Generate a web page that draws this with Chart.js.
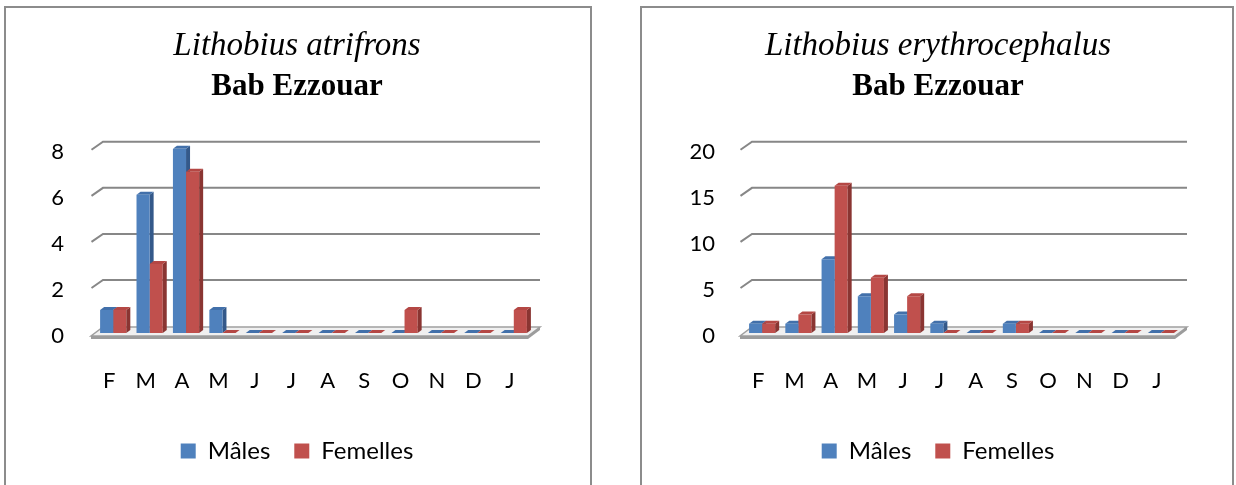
<!DOCTYPE html>
<html>
<head>
<meta charset="utf-8">
<script src="https://cdn.jsdelivr.net/npm/chart.js@4.4.1/dist/chart.umd.min.js"></script>
<style>
  html, body { margin: 0; padding: 0; background: #fff; overflow: hidden; width: 1236px; height: 485px; }
  .panel { position: absolute; box-sizing: border-box; border: 2px solid #8c8c8c; background: #fff; }
  canvas { position: absolute; top: 0; }
</style>
</head>
<body>
<div class="panel" style="left:4px; top:6px; width:588px; height:600px;"></div>
<div class="panel" style="left:640px; top:6px; width:594px; height:600px;"></div>
<canvas id="chartA" width="620" height="520" style="left:0px;"></canvas>
<canvas id="chartB" width="616" height="520" style="left:620px;"></canvas>
<script>
// Months of the sampling year (February to January)
const months = ['F', 'M', 'A', 'M', 'J', 'J', 'A', 'S', 'O', 'N', 'D', 'J'];

// Lithobius atrifrons, Bab Ezzouar
const atrifronsMales   = [1, 6, 8, 1, 0, 0, 0, 0, 0, 0, 0, 0];
const atrifronsFemales = [1, 3, 7, 0, 0, 0, 0, 0, 1, 0, 0, 1];
const atrifronsTicks   = { max: 8, step: 2 };

// Lithobius erythrocephalus, Bab Ezzouar
const erythroMales   = [1, 1, 8, 4, 2, 1, 0, 1, 0, 0, 0, 0];
const erythroFemales = [1, 2, 16, 6, 4, 0, 0, 1, 0, 0, 0, 0];
const erythroTicks   = { max: 20, step: 5 };

const seriesNames = ['Mâles', 'Femelles'];

const COLORS = {
  front: ['#4F81BD', '#C0504D'],
  top:   ['#4270AA', '#B44744'],
  side:  ['#34598A', '#8A3532']
};

const SANS = 'Lato, "Open Sans", sans-serif';
const SERIF = '"Liberation Serif", "Times New Roman", serif';

// Bar depth and wall depth of the pseudo-3D look
const BAR_DX = 4, BAR_DY = 3;
const WALL_DX = 11.5, WALL_DY = 8;

function drawBarFaces(ctx, meta, i) {
  meta.data.forEach(bar => {
    const p = bar.getProps(['x', 'y', 'width', 'base'], true);
    const l = p.x - p.width / 2, r = p.x + p.width / 2;
    const top = Math.min(p.y, p.base);
    ctx.fillStyle = COLORS.side[i];
    ctx.beginPath();
    ctx.moveTo(r, top);
    ctx.lineTo(r + BAR_DX, top - BAR_DY);
    ctx.lineTo(r + BAR_DX, p.base - BAR_DY);
    ctx.lineTo(r, p.base);
    ctx.closePath();
    ctx.fill();
    ctx.fillStyle = COLORS.top[i];
    ctx.beginPath();
    ctx.moveTo(l, top);
    ctx.lineTo(l + BAR_DX, top - BAR_DY);
    ctx.lineTo(r + BAR_DX, top - BAR_DY);
    ctx.lineTo(r, top);
    ctx.closePath();
    ctx.fill();
  });
}

const pseudo3d = {
  id: 'pseudo3d',
  beforeDatasetsDraw(chart) {
    const { ctx, chartArea: a, scales: { y } } = chart;
    ctx.save();
    // back-wall gridlines with the short diagonal on the side wall
    ctx.strokeStyle = '#878787';
    ctx.lineWidth = 2;
    y.ticks.forEach(t => {
      if (t.value === 0) return;
      const py = y.getPixelForValue(t.value);
      ctx.beginPath();
      ctx.moveTo(a.left - 3.5, py + 1);
      ctx.lineTo(a.left + WALL_DX - 3.5, py + 1 - WALL_DY);
      ctx.lineTo(a.right + 8, py + 1 - WALL_DY);
      ctx.stroke();
    });
    // floor slab
    const B = a.bottom;
    ctx.fillStyle = '#f0f0f0';
    ctx.strokeStyle = '#a0a0a0';
    ctx.lineWidth = 1.5;
    ctx.beginPath();
    ctx.moveTo(a.left - 4, B + 3);
    ctx.lineTo(a.right - 4, B + 3);
    ctx.lineTo(a.right + 8, B - 6);
    ctx.lineTo(a.left + 8, B - 6);
    ctx.closePath();
    ctx.fill();
    ctx.stroke();
    ctx.fillStyle = '#9c9c9c';
    ctx.fillRect(a.left - 4, B + 3, a.right - a.left, 3);
    ctx.beginPath();
    ctx.moveTo(a.right - 4, B + 3);
    ctx.lineTo(a.right + 8, B - 6);
    ctx.lineTo(a.right + 8, B - 3);
    ctx.lineTo(a.right - 4, B + 6);
    ctx.closePath();
    ctx.fill();
    ctx.restore();
  },
  beforeDatasetDraw(chart, args) {
    // faces of the first series go under the front of the second one
    if (args.index === 1) {
      chart.ctx.save();
      drawBarFaces(chart.ctx, chart.getDatasetMeta(0), 0);
      chart.ctx.restore();
    }
  },
  afterDatasetsDraw(chart) {
    chart.ctx.save();
    drawBarFaces(chart.ctx, chart.getDatasetMeta(1), 1);
    chart.ctx.restore();
  }
};

function makeChart(id, species, males, females, ticks, box) {
  return new Chart(document.getElementById(id), {
    type: 'bar',
    data: {
      labels: months,
      datasets: [
        { label: seriesNames[0], data: males, backgroundColor: COLORS.front[0], borderWidth: 0 },
        { label: seriesNames[1], data: females, backgroundColor: COLORS.front[1], borderWidth: 0 }
      ]
    },
    options: {
      responsive: false,
      devicePixelRatio: 1,
      animation: false,
      categoryPercentage: 0.72,
      barPercentage: 1.0,
      layout: { padding: { left: box.padLeft, right: box.padRight, top: 27, bottom: 47 } },
      plugins: {
        tooltip: { enabled: false },
        title: {
          display: true,
          text: species,
          color: '#000',
          font: { family: SERIF, size: 33, style: 'italic', weight: 'normal', lineHeight: 1.2 },
          padding: { top: 0, bottom: 0 }
        },
        subtitle: {
          display: true,
          text: 'Bab Ezzouar',
          color: '#000',
          font: { family: SERIF, size: 31, weight: 'bold', lineHeight: 1.2 },
          padding: { top: 2, bottom: 43 }
        },
        legend: {
          position: 'bottom',
          labels: {
            color: '#000',
            font: { family: SANS, size: 24 },
            boxWidth: 15,
            boxHeight: 15,
            padding: 24
          }
        }
      },
      scales: {
        x: {
          grid: { display: false, drawTicks: false },
          border: { display: false },
          ticks: { color: '#000', font: { family: SANS, size: 22 }, padding: 35, labelOffset: -4, maxRotation: 0 },
          afterFit(scale) { scale.height = 82; }
        },
        y: {
          min: 0,
          max: ticks.max,
          grid: { display: false, drawTicks: false },
          border: { display: false },
          ticks: { stepSize: ticks.step, color: '#000', font: { family: SANS, size: 22 }, padding: box.yPad, labelOffset: 3 },
          afterFit(scale) { scale.width = box.yWidth; }
        },
        // empty right-hand margin so the titles stay centred on the panel
        margin: {
          type: 'linear',
          position: 'right',
          grid: { display: false, drawTicks: false },
          border: { display: false },
          ticks: { display: false },
          afterFit(scale) { scale.width = box.rightGap; }
        }
      }
    },
    plugins: [pseudo3d]
  });
}

makeChart('chartA', 'Lithobius atrifrons', atrifronsMales, atrifronsFemales, atrifronsTicks,
          { padLeft: 40, padRight: 66, yWidth: 55, yPad: 31, rightGap: 22 });
makeChart('chartB', 'Lithobius erythrocephalus', erythroMales, erythroFemales, erythroTicks,
          { padLeft: 60, padRight: 40, yWidth: 64, yPad: 29, rightGap: 17 });
</script>
</body>
</html>
